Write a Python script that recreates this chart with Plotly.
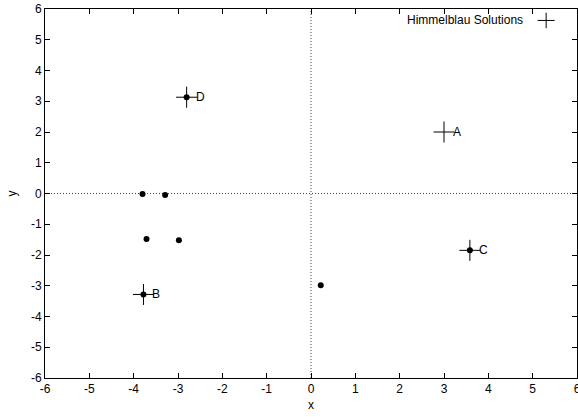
import plotly.graph_objects as go

# Known minima of Himmelblau's function
sol_labels = ["A", "B", "C", "D"]
sol_x = [3.0, -3.779, 3.584, -2.805]
sol_y = [2.0, -3.283, -1.848, 3.131]

# Points reached by the search
found_x = [-3.779, 3.584, -2.805, -3.80, -3.29, -3.71, -2.98, 0.22]
found_y = [-3.283, -1.848, 3.131, -0.02, -0.05, -1.48, -1.52, -2.98]

ticks = list(range(-6, 7))
tick_text = [str(t) for t in ticks]  # plain hyphen minus signs
FONT = "Liberation Sans, Arial, Helvetica, sans-serif"
FS = 12

fig = go.Figure()

fig.add_trace(go.Scatter(
    x=found_x, y=found_y, mode="markers",
    marker=dict(symbol="circle", size=6, color="black"),
    showlegend=False, hoverinfo="skip",
))

fig.add_trace(go.Scatter(
    x=sol_x, y=sol_y, mode="markers",
    name="Himmelblau Solutions",
    marker=dict(symbol="cross-thin", size=15, line=dict(width=1, color="black"), color="black"),
    showlegend=False,
))

for lab, xv, yv in zip(sol_labels, sol_x, sol_y):
    fig.add_annotation(x=xv, y=yv, text=lab, showarrow=False, xanchor="left",
                       xshift=7, font=dict(family=FONT, size=FS, color="black"))

# dotted zero axes
fig.add_shape(type="line", x0=-6, x1=6, y0=0, y1=0, xref="x", yref="y",
              line=dict(color="#444444", width=1, dash="1px,2px"), layer="below")
fig.add_shape(type="line", x0=0, x1=0, y0=-6, y1=6, xref="x", yref="y",
              line=dict(color="#444444", width=1, dash="1px,2px"), layer="below")

# key in the top-right corner: text followed by its symbol
fig.add_annotation(x=0.902, y=0.969, xref="paper", yref="paper", text="Himmelblau Solutions",
                   showarrow=False, xanchor="right", yanchor="middle",
                   font=dict(family=FONT, size=FS, color="black"))
fig.add_shape(type="line", xref="paper", yref="paper", x0=0.926, x1=0.958, y0=0.969, y1=0.969,
              line=dict(color="black", width=1))
fig.add_shape(type="line", xref="paper", yref="paper", x0=0.942, x1=0.942, y0=0.948, y1=0.990,
              line=dict(color="black", width=1))

axis_common = dict(
    tickvals=ticks, ticktext=tick_text, ticks="inside", ticklen=5, tickwidth=1, tickcolor="black",
    showline=True, linecolor="black", linewidth=1, mirror="ticks",
    showgrid=False, zeroline=False, ticklabeloverflow="allow", automargin=False,
    tickfont=dict(family=FONT, size=FS, color="black"),
)

fig.update_xaxes(range=[-6, 6], title=dict(text="x", font=dict(family=FONT, size=FS, color="black"), standoff=5),
                 **axis_common)
fig.update_yaxes(range=[-6, 6], title=dict(text="y", font=dict(family=FONT, size=FS, color="black"), standoff=11),
                 **axis_common)

fig.update_layout(
    width=578, height=417,
    margin=dict(l=45, r=1, t=9, b=39),
    plot_bgcolor="white", paper_bgcolor="white",
    font=dict(family=FONT, size=FS, color="black"),
    showlegend=False,
)

fig.write_html("out.html")
